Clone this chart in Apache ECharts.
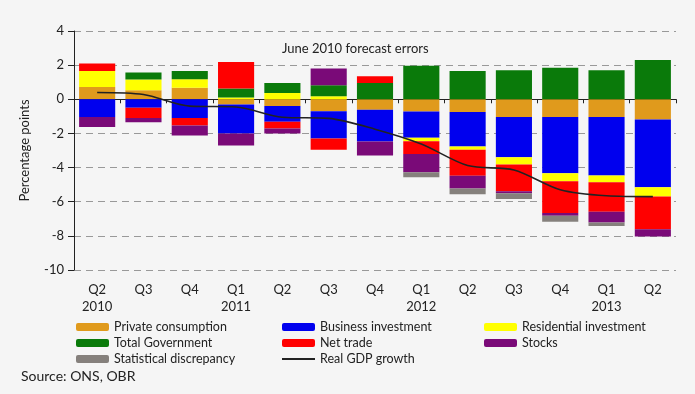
<!DOCTYPE html>
<html>
<head>
<meta charset="utf-8">
<script src="https://cdn.jsdelivr.net/npm/echarts@6/dist/echarts.min.js"></script>
<style>
html,body{margin:0;padding:0;background:#f5f5f5;}
#chart{width:695px;height:394px;}
</style>
</head>
<body>
<div id="chart"></div>
<script>
var categories = ["Q2\n2010","Q3","Q4","Q1\n2011","Q2","Q3","Q4","Q1\n2012","Q2","Q3","Q4","Q1\n2013","Q2"];
var yTicks = [-10,-8,-6,-4,-2,0,2,4];

var privateConsumption    = [0.72, 0.53, 0.67, -0.30, -0.40, -0.70, -0.62, -0.71, -0.75, -1.04, -1.04, -1.04, -1.18];
var businessInvestment    = [-1.04, -0.49, -1.10, -1.70, -0.92, -1.60, -1.85, -1.55, -2.02, -2.35, -3.29, -3.43, -3.98];
var residentialInvestment = [0.94, 0.63, 0.51, 0.10, 0.37, 0.18, 0, -0.20, -0.18, -0.43, -0.47, -0.39, -0.53];
var totalGovernment       = [0, 0.41, 0.47, 0.53, 0.59, 0.64, 0.96, 1.96, 1.65, 1.70, 1.84, 1.70, 2.30];
var netTrade              = [0.44, -0.61, -0.43, 1.56, -0.39, -0.65, 0.39, -0.74, -1.53, -1.57, -1.86, -1.73, -1.92];
var stocks                = [-0.59, -0.24, -0.59, -0.70, -0.29, 0.98, -0.82, -1.08, -0.75, -0.12, -0.16, -0.63, -0.43];
var statDiscrepancy       = [0, 0, 0, 0, 0, 0, 0, -0.29, -0.33, -0.33, -0.35, -0.20, 0];
var realGDP               = [0.40, 0.28, -0.40, -0.45, -1.05, -1.12, -1.75, -2.62, -3.88, -4.14, -5.30, -5.65, -5.70];

var FONT = 'Lato';
var TXT = '#222';

var barNames = ['Private consumption','Business investment','Residential investment','Total Government','Net trade','Stocks','Statistical discrepancy'];
var barData = [privateConsumption, businessInvestment, residentialInvestment, totalGovernment, netTrade, stocks, statDiscrepancy];
var barColors = ['#e09a1c','#0000ee','#ffff00','#0a7a0a','#ff0000','#7a0a78','#85807c'];

var series = barNames.map(function(n, i){
  return {
    name: n, type: 'bar', stack: 'total', xAxisIndex: 0,
    data: barData[i], barCategoryGap: '22%',
    itemStyle: {color: barColors[i]},
    emphasis: {disabled: true}
  };
});
series.push({
  name: 'Real GDP growth', type: 'line', xAxisIndex: 0, data: realGDP,
  smooth: 0.3, symbol: 'none', z: 10,
  lineStyle: {color: '#222', width: 1.6},
  itemStyle: {color: '#222'}
});

var legendBase = {
  orient: 'vertical', itemWidth: 33, itemHeight: 8, itemGap: 0, padding: 0,
  textStyle: {fontFamily: FONT, fontSize: 12.5, color: TXT, lineHeight: 16, padding: [0,0,0,0]},
  selectedMode: false
};

var chart = echarts.init(document.getElementById('chart'), null, {renderer: 'canvas'});
chart.setOption({
  backgroundColor: '#f5f5f5',
  animation: false,
  textStyle: {fontFamily: FONT},
  grid: {left: 74, right: 19, top: 31, bottom: 124},
  title: [
    {text: 'June 2010 forecast errors', left: 282, top: 42, padding: 0,
     textStyle: {fontFamily: FONT, fontSize: 13, fontWeight: 'normal', color: TXT}},
    {text: 'Source: ONS, OBR', left: 21, top: 369, padding: 0,
     textStyle: {fontFamily: FONT, fontSize: 14, fontWeight: 'normal', color: TXT}}
  ],
  legend: [
    Object.assign({}, legendBase, {left: 76, top: 319, data: ['Private consumption','Total Government','Statistical discrepancy']}),
    Object.assign({}, legendBase, {left: 281, top: 319, data: ['Business investment','Net trade',{name: 'Real GDP growth', itemStyle: {opacity: 0}}]}),
    Object.assign({}, legendBase, {left: 484, top: 319, data: ['Residential investment','Stocks']})
  ],
  xAxis: [
    {
      type: 'category', data: categories, position: 'bottom',
      axisLine: {show: false, onZero: false},
      axisTick: {show: false},
      splitLine: {show: false},
      axisLabel: {fontFamily: FONT, fontSize: 13, color: TXT, lineHeight: 17, margin: 11, interval: 0}
    },
    {
      type: 'category', data: categories, position: 'bottom',
      axisLine: {show: true, onZero: true, lineStyle: {color: '#222', width: 1}},
      axisTick: {show: true, length: 4, lineStyle: {color: '#222'}},
      axisLabel: {show: false},
      splitLine: {show: false}
    }
  ],
  yAxis: {
    type: 'value', min: yTicks[0], max: yTicks[yTicks.length-1], interval: 2,
    name: 'Percentage points', nameLocation: 'middle', nameGap: 43, nameRotate: 90,
    nameTextStyle: {fontFamily: FONT, fontSize: 13, color: TXT},
    axisLine: {show: true, lineStyle: {color: '#222', width: 1}},
    axisTick: {show: true, length: 6, lineStyle: {color: '#222'}},
    axisLabel: {fontFamily: FONT, fontSize: 13, color: TXT, margin: 10},
    splitLine: {show: true, lineStyle: {color: '#999', type: [7, 5], width: 1}}
  },
  series: series
});
</script>
</body>
</html>
